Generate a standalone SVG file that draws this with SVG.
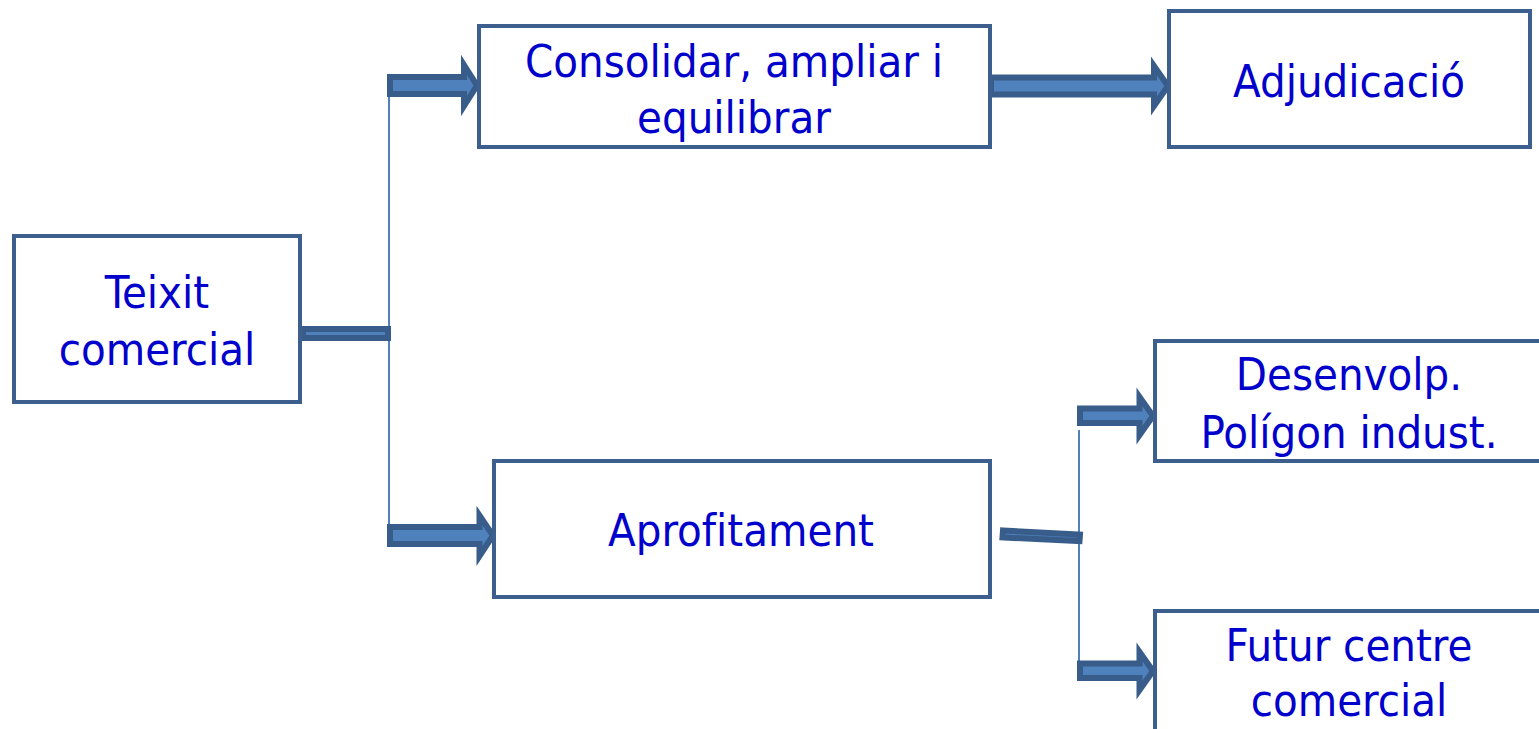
<svg xmlns="http://www.w3.org/2000/svg" width="1539" height="729" viewBox="0 0 1539 729">
<style>
.box{fill:#fff;stroke:#3C5F8D;stroke-width:4}
.t{font-family:"DejaVu Sans Condensed","DejaVu Sans",sans-serif;font-stretch:condensed;font-size:45px;fill:#0000CC;text-anchor:middle;font-variant-ligatures:none}
.arr{fill:#4F81BD;stroke:#385D8A;stroke-width:6;stroke-linejoin:miter;stroke-miterlimit:10}
.thin{stroke:#4F81BD;stroke-width:2;fill:none}
</style>
<rect width="1539" height="729" fill="#fff"/>
<g id="connectors">
  <line class="thin" x1="389" y1="85" x2="389" y2="545"/>
  <line class="thin" x1="1079" y1="430" x2="1079" y2="670"/>
  <rect class="arr" x="303" y="329" width="85" height="9"/>
  <path class="arr" d="M390,77 L464,77 L464,65 L477,85.5 L464,106 L464,94 L390,94 Z"/>
  <path class="arr" d="M390,527 L479.5,527 L479.5,515.5 L493,535.5 L479.5,556 L479.5,544 L390,544 Z"/>
  <path class="arr" d="M991,77.5 L1154,77.5 L1154,66 L1168,86 L1154,106 L1154,94.5 L991,94.5 Z"/>
  <path class="arr" d="M1003,530.5 L1080,534.5 L1079.5,541 L1002.5,537.5 Z"/>
  <path class="arr" d="M1080,408.5 L1139.5,408.5 L1139.5,397 L1153,416 L1139.5,435 L1139.5,423 L1080,423 Z"/>
  <path class="arr" d="M1080,663.5 L1139.5,663.5 L1139.5,652 L1153,671 L1139.5,690 L1139.5,678 L1080,678 Z"/>
</g>
<g id="teixit">
  <rect class="box" x="14" y="236" width="286" height="166"/>
  <text class="t" x="157" y="308">Teixit</text>
  <text class="t" x="157" y="365">comercial</text>
</g>
<g id="consolidar">
  <rect class="box" x="479" y="26" width="511" height="121"/>
  <text class="t" x="734" y="77">Consolidar, ampliar i</text>
  <text class="t" x="734" y="133">equilibrar</text>
</g>
<g id="adjudicacio">
  <rect class="box" x="1169" y="11" width="361" height="136"/>
  <text class="t" x="1349" y="97">Adjudicació</text>
</g>
<g id="aprofitament">
  <rect class="box" x="494" y="461" width="496" height="136"/>
  <text class="t" x="741" y="546">Aprofitament</text>
</g>
<g id="desenvolp">
  <rect class="box" x="1155" y="341" width="390" height="120"/>
  <text class="t" x="1349" y="390">Desenvolp.</text>
  <text class="t" x="1349" y="448">Polígon indust.</text>
</g>
<g id="futur">
  <rect class="box" x="1155" y="611" width="390" height="125"/>
  <text class="t" x="1349" y="661">Futur centre</text>
  <text class="t" x="1349" y="716">comercial</text>
</g>
</svg>
